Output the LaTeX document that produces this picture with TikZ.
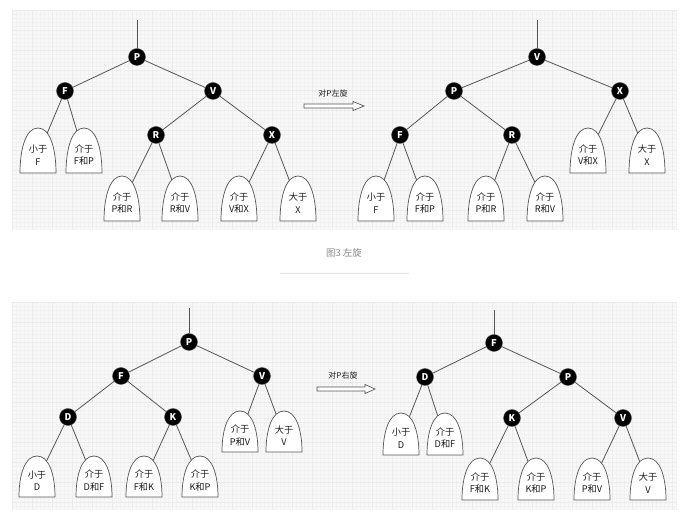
\documentclass[tikz,border=0pt]{standalone}
\usepackage{fontspec}
\setmainfont{Noto Sans CJK SC}
\pgfdeclarelayer{grid}
\pgfdeclarelayer{edges}
\pgfsetlayers{grid,edges,main}
\definecolor{edgegray}{HTML}{555555}
\definecolor{panelbg}{HTML}{F8F8F8}
\definecolor{gridfine}{HTML}{F1F1F1}
\definecolor{gridbold}{HTML}{EBEBEB}
\definecolor{captiongray}{HTML}{8A8A8A}
\definecolor{ruleline}{HTML}{E6E6E6}
\definecolor{textdark}{HTML}{1A1A1A}
\tikzset{
  blacknode/.style={circle,fill=black,draw=edgegray,line width=0.4pt,minimum size=17pt,inner sep=0pt,
    text=white,font=\fontsize{9.3}{10}\selectfont\bfseries},
  edge/.style={draw=edgegray,line width=0.8pt},
  leafline/.style={draw=edgegray,line width=0.7pt,fill=white},
  leaftext/.style={inner sep=0pt,align=center,text=textdark,font=\fontsize{9.2}{12.5}\selectfont},
  arrowline/.style={draw=edgegray,line width=0.7pt,fill=white,line join=miter},
  arrowlabel/.style={inner sep=0pt,text=textdark,font=\fontsize{8}{9}\selectfont},
}
% leaf: name, center x, bottom y, height, text
\newcommand\leafshape[5]{%
  \draw[leafline] (#2-18,#3) .. controls (#2-18,#3-0.55*#4) and (#2-12,#3-#4) .. (#2,#3-#4)
     .. controls (#2+12,#3-#4) and (#2+18,#3-0.55*#4) .. (#2+18,#3) -- cycle;
  \node[leaftext] (#1) at (#2,#3-0.4*#4) {#5};
}
\begin{document}
\begin{tikzpicture}[x=1pt,y=-1pt]
\useasboundingbox (0,0) rectangle (689,521);
% panels with grid
\begin{pgfonlayer}{grid}
\fill[white] (0,0) rectangle (689,521);
\foreach \ya/\yb in {10/230,302/510}{
  \fill[panelbg] (12,\ya) rectangle (677,\yb);
  \begin{scope}
    \clip (12,\ya) rectangle (677,\yb);
    \foreach \gx in {12,16,...,677} \draw[gridfine,line width=0.3pt] (\gx,\ya) -- (\gx,\yb);
    \foreach \gy in {\ya,\the\numexpr\ya+4\relax,...,\yb} \draw[gridfine,line width=0.3pt] (12,\gy) -- (677,\gy);
    \foreach \gx in {12,32,...,677} \draw[gridbold,line width=0.35pt] (\gx,\ya) -- (\gx,\yb);
    \foreach \gy in {\ya,\the\numexpr\ya+20\relax,...,\yb} \draw[gridbold,line width=0.35pt] (12,\gy) -- (677,\gy);
  \end{scope}
}
\end{pgfonlayer}

% ===== top-left tree =====
\node[blacknode] (a1P) at (137,57) {P};
\node[blacknode] (a1F) at (65,91) {F};
\node[blacknode] (a1V) at (213,91) {V};
\node[blacknode] (a1R) at (156,135) {R};
\node[blacknode] (a1X) at (272,135) {X};
\coordinate (a1top) at (137,20);
\leafshape{a1l1}{38}{173}{45}{小于\\F}
\leafshape{a1l2}{84}{173}{45}{介于\\F和P}
\leafshape{a1l3}{122}{221}{45}{介于\\P和R}
\leafshape{a1l4}{180}{221}{45}{介于\\R和V}
\leafshape{a1l5}{239}{221}{45}{介于\\V和X}
\leafshape{a1l6}{298}{221}{45}{大于\\X}
\begin{pgfonlayer}{edges}
\draw[edge] (a1P) -- (a1top);
\draw[edge] (a1P) -- (a1F);
\draw[edge] (a1P) -- (a1V);
\draw[edge] (a1V) -- (a1R);
\draw[edge] (a1V) -- (a1X);
\draw[edge] (a1F) -- (a1l1.center);
\draw[edge] (a1F) -- (a1l2.center);
\draw[edge] (a1R) -- (a1l3.center);
\draw[edge] (a1R) -- (a1l4.center);
\draw[edge] (a1X) -- (a1l5.center);
\draw[edge] (a1X) -- (a1l6.center);
\end{pgfonlayer}

% arrow top
\node[arrowlabel] (lab1) at (333,93) {对P左旋};
\draw[arrowline] (304,104) -- (353,104) -- (353,101.5) -- (364,106) -- (353,110.5) -- (353,108) -- (304,108) -- cycle;

% ===== top-right tree =====
\node[blacknode] (a2V) at (537,57) {V};
\node[blacknode] (a2P) at (454,91) {P};
\node[blacknode] (a2X) at (620,91) {X};
\node[blacknode] (a2F) at (400,135) {F};
\node[blacknode] (a2R) at (512,135) {R};
\coordinate (a2top) at (537,20);
\leafshape{a2l1}{588}{173}{45}{介于\\V和X}
\leafshape{a2l2}{647}{173}{45}{大于\\X}
\leafshape{a2l3}{376}{221}{45}{小于\\F}
\leafshape{a2l4}{425}{221}{45}{介于\\F和P}
\leafshape{a2l5}{486}{221}{45}{介于\\P和R}
\leafshape{a2l6}{545}{221}{45}{介于\\R和V}
\begin{pgfonlayer}{edges}
\draw[edge] (a2V) -- (a2top);
\draw[edge] (a2V) -- (a2P);
\draw[edge] (a2V) -- (a2X);
\draw[edge] (a2P) -- (a2F);
\draw[edge] (a2P) -- (a2R);
\draw[edge] (a2X) -- (a2l1.center);
\draw[edge] (a2X) -- (a2l2.center);
\draw[edge] (a2F) -- (a2l3.center);
\draw[edge] (a2F) -- (a2l4.center);
\draw[edge] (a2R) -- (a2l5.center);
\draw[edge] (a2R) -- (a2l6.center);
\end{pgfonlayer}

% caption
\node[inner sep=0pt,text=captiongray,font=\fontsize{9.5}{10}\selectfont] (cap) at (344,253) {图3 左旋};
\coordinate (ruleL) at (280,273);
\coordinate (ruleR) at (410,273);
\draw[ruleline,line width=0.6pt] (ruleL) -- (ruleR);

% ===== bottom-left tree =====
\node[blacknode] (b1P) at (189,342) {P};
\node[blacknode] (b1F) at (121,376) {F};
\node[blacknode] (b1V) at (262,376) {V};
\node[blacknode] (b1D) at (68,417) {D};
\node[blacknode] (b1K) at (173,417) {K};
\coordinate (b1top) at (189,308);
\leafshape{b1l1}{240}{452}{41}{介于\\P和V}
\leafshape{b1l2}{284}{452}{41}{大于\\V}
\leafshape{b1l3}{37}{497}{41}{小于\\D}
\leafshape{b1l4}{94}{497}{41}{介于\\D和F}
\leafshape{b1l5}{144}{497}{41}{介于\\F和K}
\leafshape{b1l6}{200}{497}{41}{介于\\K和P}
\begin{pgfonlayer}{edges}
\draw[edge] (b1P) -- (b1top);
\draw[edge] (b1P) -- (b1F);
\draw[edge] (b1P) -- (b1V);
\draw[edge] (b1F) -- (b1D);
\draw[edge] (b1F) -- (b1K);
\draw[edge] (b1V) -- (b1l1.center);
\draw[edge] (b1V) -- (b1l2.center);
\draw[edge] (b1D) -- (b1l3.center);
\draw[edge] (b1D) -- (b1l4.center);
\draw[edge] (b1K) -- (b1l5.center);
\draw[edge] (b1K) -- (b1l6.center);
\end{pgfonlayer}

% arrow bottom
\node[arrowlabel] (lab2) at (343,375) {对P右旋};
\draw[arrowline] (317,387) -- (365,387) -- (365,384.5) -- (375,389) -- (365,393.5) -- (365,391) -- (317,391) -- cycle;

% ===== bottom-right tree =====
\node[blacknode] (b2F) at (494,343) {F};
\node[blacknode] (b2D) at (425,377) {D};
\node[blacknode] (b2P) at (568,377) {P};
\node[blacknode] (b2K) at (512,418) {K};
\node[blacknode] (b2V) at (623,418) {V};
\coordinate (b2top) at (494,310);
\leafshape{b2l1}{401}{455}{42}{小于\\D}
\leafshape{b2l2}{445}{455}{42}{介于\\D和F}
\leafshape{b2l3}{480}{500}{42}{介于\\F和K}
\leafshape{b2l4}{536}{500}{42}{介于\\K和P}
\leafshape{b2l5}{592}{500}{42}{介于\\P和V}
\leafshape{b2l6}{648}{500}{42}{大于\\V}
\begin{pgfonlayer}{edges}
\draw[edge] (b2F) -- (b2top);
\draw[edge] (b2F) -- (b2D);
\draw[edge] (b2F) -- (b2P);
\draw[edge] (b2P) -- (b2K);
\draw[edge] (b2P) -- (b2V);
\draw[edge] (b2D) -- (b2l1.center);
\draw[edge] (b2D) -- (b2l2.center);
\draw[edge] (b2K) -- (b2l3.center);
\draw[edge] (b2K) -- (b2l4.center);
\draw[edge] (b2V) -- (b2l5.center);
\draw[edge] (b2V) -- (b2l6.center);
\end{pgfonlayer}
\end{tikzpicture}
\end{document}
